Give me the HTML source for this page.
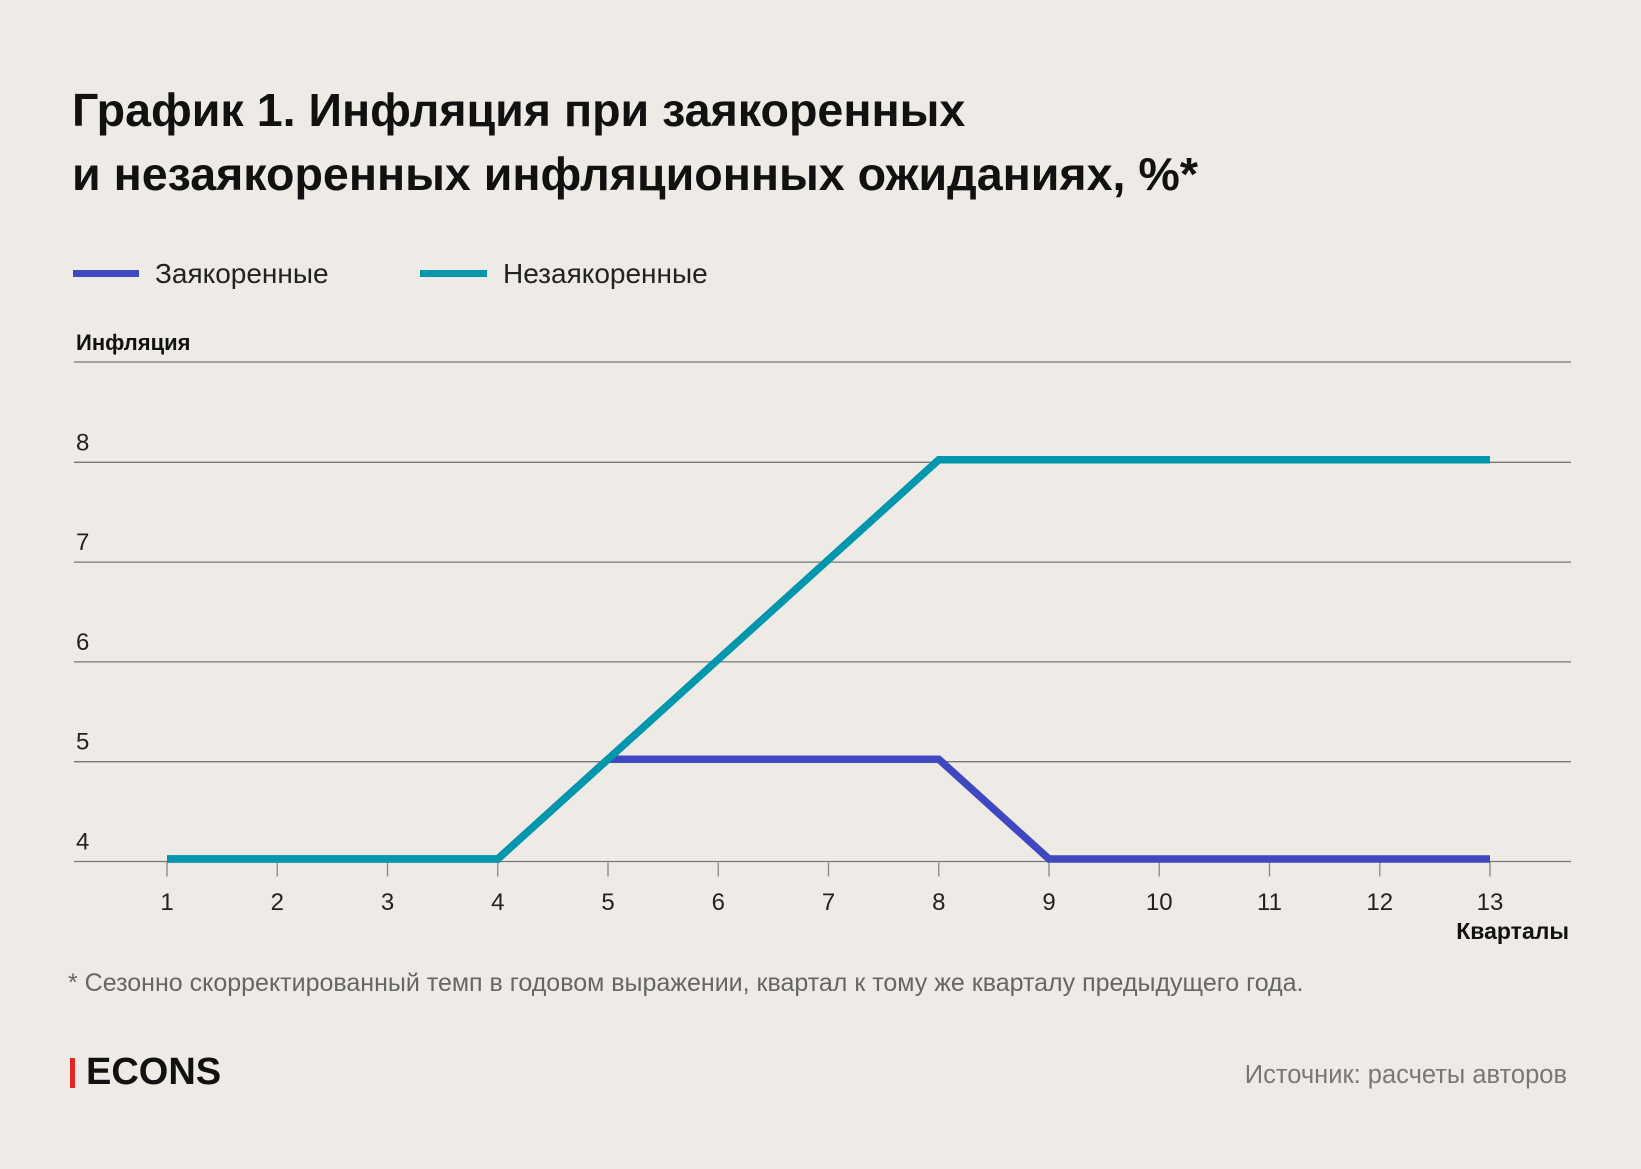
<!DOCTYPE html>
<html><head><meta charset="utf-8"><style>
body{margin:0;width:1641px;height:1169px;background:#eeebe6;font-family:"Liberation Sans",sans-serif;overflow:hidden;position:relative}
.t{position:absolute;white-space:nowrap}
</style></head><body>
<div class="t" style="left:72px;top:78px;font-size:46.6px;font-weight:bold;line-height:64px;color:#111">График 1. Инфляция при заякоренных<br>и незаякоренных инфляционных ожиданиях, %*</div>
<div><div style="position:absolute;left:73px;top:270px;width:66px;height:7px;background:#3f48c0"></div><div class="t" style="left:155px;top:258px;font-size:28px;color:#222">Заякоренные</div></div>
<div><div style="position:absolute;left:420px;top:270px;width:67px;height:7px;background:#0096ae"></div><div class="t" style="left:503px;top:258px;font-size:28px;color:#222">Незаякоренные</div></div>
<div class="t" style="left:76px;top:330px;font-size:22px;font-weight:bold;color:#111">Инфляция</div>
<div class="t" style="right:72px;top:918px;font-size:23px;font-weight:bold;color:#111">Кварталы</div>
<div class="t" style="left:68px;top:969px;font-size:25px;color:#666">* Сезонно скорректированный темп в годовом выражении, квартал к тому же кварталу предыдущего года.</div>
<div><div style="position:absolute;left:70px;top:1058px;width:5px;height:30px;background:#e52521"></div><div class="t" style="left:86px;top:1051px;font-size:38px;font-weight:bold;color:#111">ECONS</div></div>
<div class="t" style="right:74px;top:1061px;font-size:25.5px;color:#777">Источник: расчеты авторов</div>
<svg id="chart" width="1641" height="1169" style="position:absolute;left:0;top:0"></svg>
<script>
const categories=[1,2,3,4,5,6,7,8,9,10,11,12,13];
const anchored=[4,4,4,4,5,5,5,5,4,4,4,4,4];
const unanchored=[4,4,4,4,5,6,7,8,8,8,8,8,8];
const yTicks=[4,5,6,7,8];
const svg=document.getElementById('chart');const NS='http://www.w3.org/2000/svg';
const x=v=>167+(v-1)*110.25;const y=v=>861.5-(v-4)*99.8;
function mk(t,a){const e=document.createElementNS(NS,t);for(const k in a)e.setAttribute(k,a[k]);svg.appendChild(e);return e;}
const gridTop=mk('line',{x1:74,x2:1571,y1:362,y2:362,stroke:'#777','stroke-width':1.3});


yTicks.forEach(v=>{const g=mk('line',{x1:74,x2:1571,y1:y(v),y2:y(v),stroke:'#777','stroke-width':1.3});


const t=mk('text',{x:76,y:y(v)-12,'font-size':24,fill:'#222','font-family':'Liberation Sans'});t.textContent=v;

});
categories.forEach(c=>{const tk=mk('line',{x1:x(c),x2:x(c),y1:y(4)+1,y2:y(4)+15,stroke:'#888','stroke-width':1.3});


const t=mk('text',{x:x(c),y:910,'font-size':24,fill:'#222','text-anchor':'middle','font-family':'Liberation Sans'});t.textContent=c;

});
function line(data,col,name){const p=mk('polyline',{points:data.map((v,i)=>x(categories[i])+','+(y(v)-2.5)).join(' '),fill:'none',stroke:col,'stroke-width':7.5,'stroke-linejoin':'miter'});

}
line(anchored,'#3f48c0','series-anchored');
line(unanchored,'#0096ae','series-unanchored');
</script>
</body></html>
